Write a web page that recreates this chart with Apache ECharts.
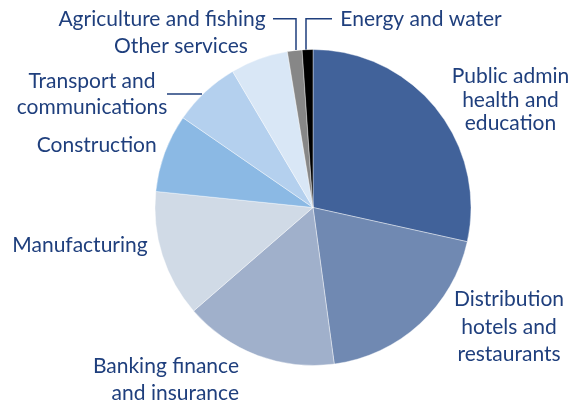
<!DOCTYPE html>
<html>
<head>
<meta charset="utf-8">
<script src="https://cdn.jsdelivr.net/npm/echarts@6/dist/echarts.min.js"></script>
<style>
  html, body { margin: 0; padding: 0; background: #fff; }
  #chart { width: 581px; height: 407px; }
</style>
</head>
<body>
<div id="chart"></div>
<script>
// Employment share by sector (%), clockwise from 12 o'clock
const sectors = [
  'Public admin\nhealth and\neducation',
  'Distribution\nhotels and\nrestaurants',
  'Banking finance\nand insurance',
  'Manufacturing',
  'Construction',
  'Transport and\ncommunications',
  'Other services',
  'Agriculture and fishing',
  'Energy and water'
];
const shares = [28.5, 19.4, 15.8, 13.0, 8.0, 6.9, 5.9, 1.5, 1.1];
const sliceColors = ['#41629a', '#7089b2', '#a0b0cb', '#d0dae6', '#8bb9e4', '#b4d0ee', '#d9e7f6', '#878787', '#000000'];

const textColor = '#1f3f7d';
const fontFamily = 'Lato, "Noto Sans", sans-serif';
const fontSize = 21;

// label placement per slice: centre point, alignment, line height, optional leader line
const labelSpots = [
  { x: 510.5, y: 100, align: 'center', lh: 23.5 },
  { x: 509, y: 327, align: 'center', lh: 27.5 },
  { x: 239, y: 380, align: 'right', lh: 26.7 },
  { x: 80, y: 245, align: 'center', lh: 24 },
  { x: 96.7, y: 145, align: 'center', lh: 24 },
  { x: 92, y: 94.5, align: 'center', lh: 25.7, line: [[167, 94], [202, 94]] },
  { x: 181, y: 46.5, align: 'center', lh: 24 },
  { x: 162, y: 19.5, align: 'center', lh: 24, line: [[273, 18.7], [296, 18.7], [296, 50]] },
  { x: 421, y: 19.5, align: 'center', lh: 24, line: [[332, 18.7], [306, 18.7], [306, 50]] }
];

const chart = echarts.init(document.getElementById('chart'), null, { renderer: 'canvas' });

chart.setOption({
  animation: false,
  backgroundColor: '#ffffff',
  series: [{
    type: 'pie',
    center: [313, 207.5],
    radius: [0, 158],
    startAngle: 90,
    clockwise: true,
    avoidLabelOverlap: false,
    itemStyle: { borderColor: '#ffffff', borderWidth: 0.4 },
    label: {
      show: true,
      position: 'outside',
      color: textColor,
      fontFamily: fontFamily,
      fontSize: fontSize
    },
    labelLine: {
      show: true,
      lineStyle: { color: textColor, width: 1.5 }
    },
    labelLayout: function (p) {
      const s = labelSpots[p.dataIndex];
      const out = {
        x: s.x,
        y: s.y,
        align: s.align,
        verticalAlign: 'middle'
      };
      out.labelLinePoints = s.line ? (s.line.length === 3 ? s.line : [s.line[0], s.line[1], s.line[1]]) : [[0, 0], [0, 0], [0, 0]];
      return out;
    },
    data: sectors.map((name, i) => ({
      name: name,
      value: shares[i],
      itemStyle: { color: sliceColors[i] },
      label: { lineHeight: labelSpots[i].lh },
      labelLine: { show: !!labelSpots[i].line }
    }))
  }]
});
</script>
</body>
</html>
